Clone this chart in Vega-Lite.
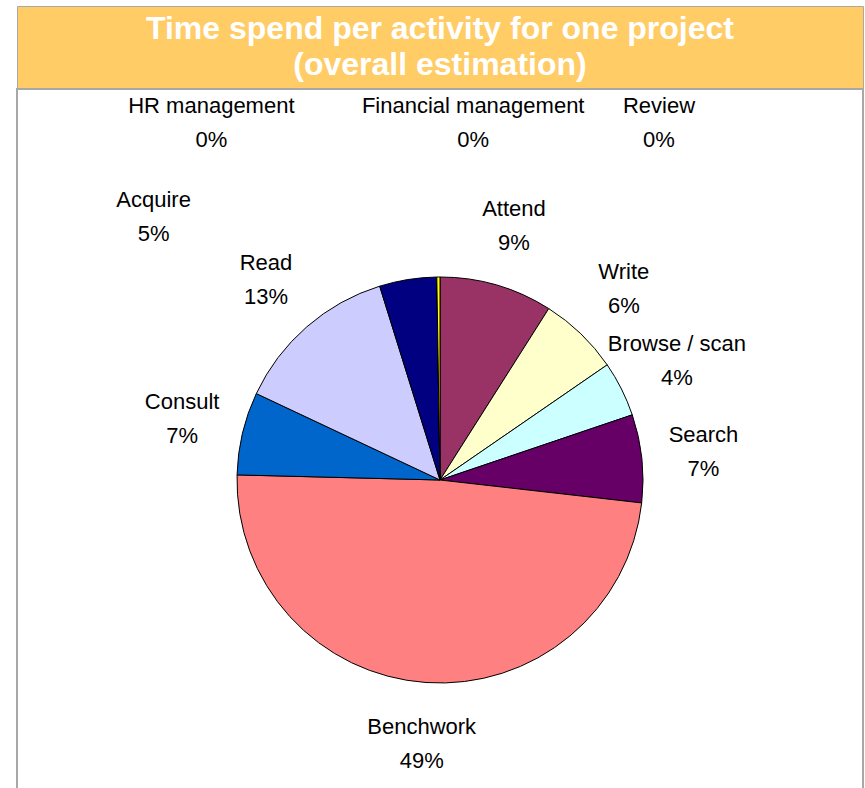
{
  "$schema": "https://vega.github.io/schema/vega-lite/v6.json",
  "background": "white",
  "padding": {"left": 16, "top": 5, "right": 0, "bottom": 0},
  "spacing": 0,
  "bounds": "flush",
  "config": {"font": "Liberation Sans"},
  "vconcat": [
    {
      "width": 846,
      "height": 83,
      "view": {"fill": "#FFCC66", "stroke": "#A8A8A8", "strokeWidth": 1},
      "data": {"values": [{}]},
      "mark": {"type": "text", "font": "Liberation Sans", "fontWeight": "bold", "fontSize": 32, "fill": "white", "lineHeight": 36, "align": "center", "baseline": "middle", "dy": -19},
      "encoding": {"text": {"value": ["Time spend per activity for one project", "(overall estimation)"]}}
    },
    {
      "width": 846,
      "height": 782,
      "view": {"fill": "white", "stroke": "#A8A8A8", "strokeWidth": 2},
      "data": {"values": [
        {"activity": "Review", "share": 0},
        {"activity": "Attend", "share": 9.0},
        {"activity": "Write", "share": 6.4},
        {"activity": "Browse / scan", "share": 4.4},
        {"activity": "Search", "share": 7.0},
        {"activity": "Benchwork", "share": 48.6},
        {"activity": "Consult", "share": 6.6},
        {"activity": "Read", "share": 13.2},
        {"activity": "Acquire", "share": 4.55},
        {"activity": "HR management", "share": 0},
        {"activity": "Financial management", "share": 0.25}
      ]},
      "transform": [
        {"stack": "share", "groupby": [], "as": ["v0", "v1"]},
        {"calculate": "(datum.v0 + datum.v1) / 2", "as": "mid"},
        {"calculate": "[datum.activity, format(datum.share, '.0f') + '%']", "as": "label"}
      ],
      "layer": [
        {
          "mark": {"type": "arc", "outerRadius": 203, "stroke": "black", "strokeWidth": 1},
          "encoding": {
            "theta": {"field": "v0", "type": "quantitative", "stack": null, "scale": {"domain": [0, 100]}},
            "theta2": {"field": "v1"},
            "color": {
              "field": "activity",
              "type": "nominal",
              "legend": null,
              "scale": {
                "domain": ["Review", "Attend", "Write", "Browse / scan", "Search", "Benchwork", "Consult", "Read", "Acquire", "HR management", "Financial management"],
                "range": ["#9999FF", "#993366", "#FFFFCC", "#CCFFFF", "#660066", "#FF8080", "#0066CC", "#CCCCFF", "#000080", "#FF00FF", "#FFFF00"]
              }
            }
          }
        },
        {
          "transform": [{"filter": "indexof(['Attend', 'Write', 'Browse / scan', 'Search', 'Benchwork', 'Consult', 'Read'], datum.activity) >= 0"}],
          "mark": {"type": "text", "radius": 265, "dy": -17, "fontSize": 22, "lineHeight": 34, "align": "center", "baseline": "middle", "fill": "black"},
          "encoding": {
            "theta": {"field": "mid", "type": "quantitative", "stack": null},
            "text": {"field": "label"}
          }
        },
        {
          "transform": [{"filter": "datum.activity === 'Acquire'"}],
          "mark": {"type": "text", "radius": 262, "dx": -245, "dy": -21, "fontSize": 22, "lineHeight": 34, "align": "center", "baseline": "middle", "fill": "black"},
          "encoding": {
            "theta": {"field": "mid", "type": "quantitative", "stack": null},
            "text": {"field": "label"}
          }
        },
        {
          "transform": [{"filter": "datum.activity === 'HR management'"}],
          "mark": {"type": "text", "radius": 358, "dx": -223, "dy": -16, "fontSize": 22, "lineHeight": 34, "align": "center", "baseline": "middle", "fill": "black"},
          "encoding": {
            "theta": {"field": "mid", "type": "quantitative", "stack": null},
            "text": {"field": "label"}
          }
        },
        {
          "transform": [{"filter": "datum.activity === 'Financial management'"}],
          "mark": {"type": "text", "radius": 358, "dx": 36, "dy": -16, "fontSize": 22, "lineHeight": 34, "align": "center", "baseline": "middle", "fill": "black"},
          "encoding": {
            "theta": {"field": "mid", "type": "quantitative", "stack": null},
            "text": {"field": "label"}
          }
        },
        {
          "transform": [{"filter": "datum.activity === 'Review'"}],
          "mark": {"type": "text", "radius": 358, "dx": 219, "dy": -16, "fontSize": 22, "lineHeight": 34, "align": "center", "baseline": "middle", "fill": "black"},
          "encoding": {
            "theta": {"field": "mid", "type": "quantitative", "stack": null},
            "text": {"field": "label"}
          }
        }
      ]
    }
  ]
}
